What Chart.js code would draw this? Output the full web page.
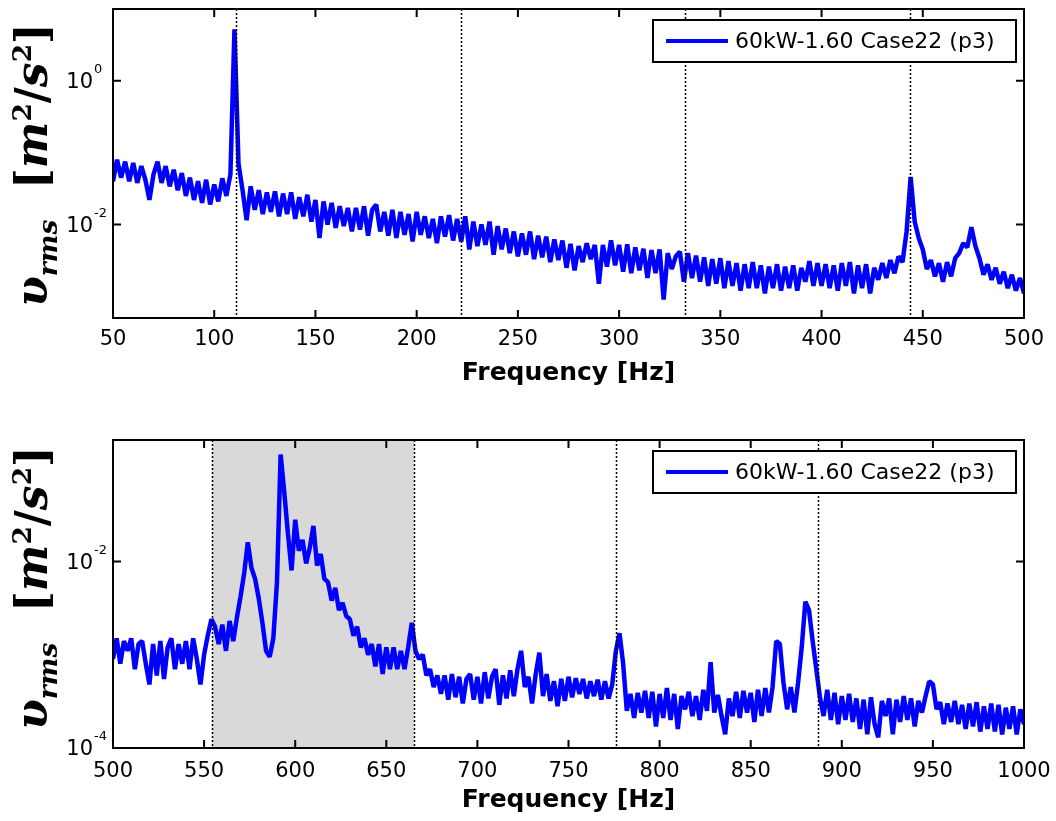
<!DOCTYPE html>
<html>
<head>
<meta charset="utf-8">
<script src="https://cdn.jsdelivr.net/npm/chart.js@4.4.0/dist/chart.umd.min.js"></script>
<style>
  html, body { margin: 0; padding: 0; background: #fff; }
  #wrap { position: relative; width: 1056px; height: 821px; overflow: hidden; }
  .box { position: absolute; left: 0; }
  .ylab {
    position: absolute; white-space: nowrap; color: #000;
    font-family: "DejaVu Serif", serif; font-size: 44px; line-height: 1; font-weight: bold;
    transform: translate(-50%, -50%) rotate(-90deg);
  }
  .ylab sub, .ylab sup { font-size: 0.6em; font-style: normal; }
  .ylab sub { font-style: italic; }
</style>
</head>
<body>
<div id="wrap">
  <div class="box" style="top:0"><canvas id="topChart" width="1056" height="410"></canvas></div>
  <div class="box" style="top:410px"><canvas id="bottomChart" width="1056" height="411"></canvas></div>
  <div class="ylab" style="left:35px; top:165px"><i>υ</i><sub>rms</sub>&nbsp;&nbsp;[<i>m</i><sup>2</sup>/<i>s</i><sup>2</sup>]</div>
  <div class="ylab" style="left:35px; top:588px"><i>υ</i><sub>rms</sub>&nbsp;&nbsp;[<i>m</i><sup>2</sup>/<i>s</i><sup>2</sup>]</div>
</div>
<script>
// ---------------------------------------------------------------------
// data (2 Hz bins)
// ---------------------------------------------------------------------
const seriesLabel = '60kW-1.60 Case22 (p3)';
const binStep = 2;

const topStart = 50;
const topValues = [
  0.040, 0.080, 0.045, 0.075, 0.040, 0.072, 0.038, 0.065, 0.042, 0.022,
  0.050, 0.075, 0.038, 0.065, 0.034, 0.058, 0.030, 0.052, 0.025, 0.045,
  0.022, 0.040, 0.020, 0.042, 0.019, 0.036, 0.021, 0.044, 0.025, 0.050,
  5.2, 0.070, 0.030, 0.0115, 0.034, 0.016, 0.030, 0.014, 0.028, 0.015,
  0.029, 0.013, 0.027, 0.014, 0.028, 0.012, 0.024, 0.013, 0.026, 0.011,
  0.022, 0.0065, 0.021, 0.010, 0.020, 0.009, 0.018, 0.0095, 0.017, 0.008,
  0.017, 0.0085, 0.018, 0.007, 0.016, 0.019, 0.008, 0.015, 0.007, 0.016,
  0.0065, 0.015, 0.0072, 0.014, 0.0058, 0.015, 0.0072, 0.013, 0.0065, 0.012,
  0.0055, 0.013, 0.0068, 0.0135, 0.0060, 0.012, 0.0058, 0.013, 0.0045, 0.0110,
  0.0050, 0.0100, 0.0052, 0.0110, 0.0038, 0.0095, 0.0045, 0.0088, 0.0040, 0.0080,
  0.0036, 0.0075, 0.0038, 0.0080, 0.0033, 0.0070, 0.0035, 0.0068, 0.0030, 0.0062,
  0.0032, 0.0060, 0.0025, 0.0054, 0.0023, 0.0050, 0.0030, 0.0055, 0.0033, 0.0052,
  0.0015, 0.0052, 0.0026, 0.0060, 0.0027, 0.0052, 0.0022, 0.0053, 0.0021, 0.0048,
  0.0023, 0.0046, 0.0018, 0.0044, 0.0021, 0.0045, 0.0009, 0.0040, 0.0024, 0.0036,
  0.0042, 0.0016, 0.0040, 0.0018, 0.0037, 0.0016, 0.0035, 0.0014, 0.0033, 0.0015,
  0.0034, 0.0013, 0.0031, 0.0014, 0.0029, 0.0012, 0.0028, 0.0013, 0.0030, 0.0013,
  0.0027, 0.0011, 0.0026, 0.0013, 0.0028, 0.0012, 0.0026, 0.0013, 0.0027, 0.0012,
  0.0025, 0.0016, 0.0031, 0.0014, 0.0029, 0.0014, 0.0028, 0.0013, 0.0027, 0.0012,
  0.0029, 0.0014, 0.0030, 0.0011, 0.0027, 0.0013, 0.0028, 0.0011, 0.0025, 0.0017,
  0.0029, 0.0018, 0.0032, 0.0021, 0.0036, 0.0030, 0.0080, 0.046, 0.011, 0.0065,
  0.0045, 0.0024, 0.0032, 0.0019, 0.0029, 0.0016, 0.0030, 0.0019, 0.0034, 0.0040,
  0.0055, 0.0048, 0.0092, 0.0050, 0.0034, 0.0020, 0.0028, 0.0017, 0.0025, 0.0015,
  0.0022, 0.0013, 0.0020, 0.0012, 0.0018, 0.0011
];

const bottomStart = 500;
const bottomValues = [
  0.0009, 0.0015, 0.0008, 0.0014, 0.0011, 0.0015, 0.0007, 0.0013, 0.0014, 0.0008,
  0.00048, 0.0013, 0.0006, 0.0014, 0.00055, 0.0012, 0.0015, 0.0007, 0.0013, 0.0008,
  0.0014, 0.0007, 0.0015, 0.0009, 0.00048, 0.0010, 0.0016, 0.0024, 0.0020, 0.0013,
  0.0021, 0.0011, 0.0023, 0.0014, 0.0025, 0.0042, 0.0075, 0.016, 0.0085, 0.0065,
  0.0040, 0.0022, 0.0011, 0.00095, 0.0015, 0.0060, 0.14, 0.055, 0.020, 0.0080,
  0.028, 0.013, 0.017, 0.0095, 0.014, 0.024, 0.0090, 0.012, 0.0065, 0.0060,
  0.0038, 0.0052, 0.0030, 0.0036, 0.0026, 0.0024, 0.0016, 0.0020, 0.0012, 0.0015,
  0.0010, 0.0013, 0.00075, 0.0013, 0.00062, 0.0012, 0.0007, 0.0012, 0.0007, 0.0011,
  0.0007, 0.0012, 0.0022, 0.0011, 0.0009, 0.0010, 0.0006, 0.0007, 0.00045, 0.0006,
  0.00038, 0.0006, 0.00033, 0.00062, 0.00035, 0.00058, 0.0003, 0.00055, 0.00062, 0.00033,
  0.00058, 0.0003, 0.00065, 0.00034, 0.00058, 0.0007, 0.00029, 0.0006, 0.00034, 0.00068,
  0.00036, 0.0007, 0.0011, 0.00045, 0.00058, 0.0003, 0.00062, 0.00105, 0.00036, 0.00062,
  0.00032, 0.00052, 0.00028, 0.00055, 0.00032, 0.00058, 0.00035, 0.00056, 0.00038, 0.00055,
  0.00034, 0.00052, 0.00036, 0.00054, 0.00033, 0.00052, 0.00034, 0.00048, 0.0011, 0.0017,
  0.0008, 0.00025, 0.00038, 0.00021, 0.00039, 0.00024, 0.00041, 0.00021, 0.0004, 0.00017,
  0.00038, 0.00021, 0.00044, 0.0002, 0.00038, 0.00016, 0.00036, 0.00026, 0.0004, 0.00022,
  0.00036, 0.0002, 0.00042, 0.00025, 0.00083, 0.00024, 0.00037, 0.00022, 0.00014, 0.00034,
  0.00022, 0.0004, 0.00021, 0.00041, 0.00024, 0.00039, 0.00019, 0.00042, 0.00022, 0.00044,
  0.00024, 0.00045, 0.0014, 0.0013, 0.0005, 0.00026, 0.00045, 0.00024, 0.0005, 0.0012,
  0.0037, 0.0030, 0.0014, 0.0007, 0.00035, 0.00022, 0.00042, 0.0002, 0.00039, 0.00018,
  0.00036, 0.0002, 0.00038, 0.00019, 0.00034, 0.00016, 0.00033, 0.00014, 0.00035, 0.00018,
  0.00013, 0.00032, 0.00022, 0.00034, 0.00014, 0.00033, 0.00019, 0.00036, 0.0002, 0.00034,
  0.00017, 0.00032, 0.00024, 0.00036, 0.00052, 0.00048, 0.00026, 0.00031, 0.00018, 0.0003,
  0.00019, 0.00032, 0.00018, 0.00029, 0.00016, 0.0003, 0.00017, 0.00031, 0.00015, 0.00028,
  0.00016, 0.0003, 0.00015, 0.00029, 0.00014, 0.00027, 0.00016, 0.00028, 0.00014, 0.00026,
  0.00018
];

// harmonics of ~110.9 Hz marked with dotted lines
const topMarks = [110.9, 221.8, 332.7, 443.6];
const bottomMarks = [554.5, 665.4, 776.3, 887.2];
const shadeBand = [554.5, 665.4];

const topYTicks = [1, 0.01];
const bottomYTicks = [0.0001, 0.01];

// ---------------------------------------------------------------------
// MATLAB-style frame, inside ticks, dotted marks, legend
// ---------------------------------------------------------------------
const matlabLook = {
  id: 'matlabLook',
  beforeDatasetsDraw(chart, args, opts) {
    const {ctx, chartArea: a, scales: {x}} = chart;
    if (!opts.shade) return;
    const x0 = x.getPixelForValue(opts.shade[0]);
    const x1 = x.getPixelForValue(opts.shade[1]);
    ctx.save();
    ctx.fillStyle = '#d9d9d9';
    ctx.fillRect(x0, a.top, x1 - x0, a.bottom - a.top);
    ctx.restore();
  },
  afterDatasetsDraw(chart, args, opts) {
    const {ctx, chartArea: a, scales: {x, y}} = chart;
    ctx.save();

    // dotted harmonic lines
    ctx.strokeStyle = '#000';
    ctx.lineWidth = 1.5;
    ctx.setLineDash([2, 2]);
    (opts.marks || []).forEach(f => {
      const px = Math.round(x.getPixelForValue(f)) + 0.5;
      ctx.beginPath();
      ctx.moveTo(px, a.top);
      ctx.lineTo(px, a.bottom);
      ctx.stroke();
    });
    ctx.setLineDash([]);

    // box + ticks
    ctx.lineWidth = 2;
    ctx.strokeRect(a.left, a.top, a.right - a.left, a.bottom - a.top);
    const tl = 8;
    ctx.beginPath();
    x.ticks.forEach(t => {
      const px = x.getPixelForValue(t.value);
      ctx.moveTo(px, a.bottom); ctx.lineTo(px, a.bottom - tl);
      ctx.moveTo(px, a.top); ctx.lineTo(px, a.top + tl);
    });
    opts.yTicks.forEach(v => {
      const py = y.getPixelForValue(v);
      ctx.moveTo(a.left, py); ctx.lineTo(a.left + tl, py);
      ctx.moveTo(a.right, py); ctx.lineTo(a.right - tl, py);
    });
    ctx.stroke();

    // y tick labels as 10^n
    ctx.fillStyle = '#000';
    ctx.textBaseline = 'middle';
    opts.yTicks.forEach(v => {
      const py = y.getPixelForValue(v);
      const expo = Math.round(Math.log10(v));
      ctx.font = '21px "DejaVu Sans"';
      ctx.textAlign = 'right';
      ctx.fillText('10', a.left - 20, py + 2);
      ctx.font = '13px "DejaVu Sans"';
      ctx.textAlign = 'left';
      ctx.fillText(String(expo), a.left - 19, py - 11);
    });

    // legend box in the upper right corner
    const ds = chart.data.datasets[0];
    const lw = 363, lh = 42;
    const lx = a.right - 8 - lw, ly = a.top + 11;
    ctx.fillStyle = '#fff';
    ctx.fillRect(lx, ly, lw, lh);
    ctx.lineWidth = 2;
    ctx.strokeStyle = '#000';
    ctx.strokeRect(lx, ly, lw, lh);
    ctx.strokeStyle = ds.borderColor;
    ctx.lineWidth = 4;
    ctx.beginPath();
    ctx.moveTo(lx + 13, ly + lh / 2);
    ctx.lineTo(lx + 75, ly + lh / 2);
    ctx.stroke();
    ctx.fillStyle = '#000';
    ctx.font = '22px "DejaVu Sans"';
    ctx.textAlign = 'left';
    ctx.textBaseline = 'middle';
    ctx.fillText(ds.label, lx + 82, ly + lh / 2 + 1);

    ctx.restore();
  }
};

function makeSpectrum(canvasId, cfg) {
  const pts = cfg.values.map((v, i) => ({x: cfg.start + i * binStep, y: v}));
  return new Chart(document.getElementById(canvasId), {
    type: 'line',
    data: {
      datasets: [{
        label: seriesLabel,
        data: pts,
        borderColor: '#0000ff',
        backgroundColor: '#0000ff',
        borderWidth: 4.5,
        borderJoinStyle: 'bevel',
        pointRadius: 0,
        tension: 0,
        fill: false
      }]
    },
    plugins: [matlabLook],
    options: {
      responsive: false,
      animation: false,
      layout: { padding: { left: 113, right: 32, top: cfg.padTop, bottom: 0 } },
      plugins: {
        legend: { display: false },
        tooltip: { enabled: false },
        matlabLook: { marks: cfg.marks, shade: cfg.shade, yTicks: cfg.yTicks }
      },
      scales: {
        x: {
          type: 'linear',
          min: cfg.xMin,
          max: cfg.xMax,
          grid: { display: false, drawTicks: false },
          border: { display: false },
          ticks: {
            stepSize: 50,
            padding: cfg.tickPad,
            color: '#000',
            maxRotation: 0,
            font: { family: 'DejaVu Sans', size: 21 },
            callback: v => String(v)
          },
          title: {
            display: true,
            text: 'Frequency [Hz]',
            color: '#000',
            font: { family: 'DejaVu Sans', size: 25, weight: 'bold' },
            padding: { top: 0, bottom: cfg.titlePad }
          },
          // keep the plot box fixed: labels may overhang into the page margin
          afterFit: s => { s.height = cfg.xAxisH; s.paddingLeft = 0; s.paddingRight = 0; }
        },
        y: {
          type: 'logarithmic',
          display: false,
          min: cfg.yMin,
          max: cfg.yMax
        }
      }
    }
  });
}

makeSpectrum('topChart', {
  values: topValues, start: topStart, xMin: 50, xMax: 500,
  yMin: 5e-4, yMax: 10, yTicks: topYTicks, marks: topMarks, shade: null,
  padTop: 9, xAxisH: 92, tickPad: 9, titlePad: 22
});

makeSpectrum('bottomChart', {
  values: bottomValues, start: bottomStart, xMin: 500, xMax: 1000,
  yMin: 1e-4, yMax: 0.2, yTicks: bottomYTicks, marks: bottomMarks, shade: shadeBand,
  padTop: 30, xAxisH: 73, tickPad: 11, titlePad: 6
});
</script>
</body>
</html>
